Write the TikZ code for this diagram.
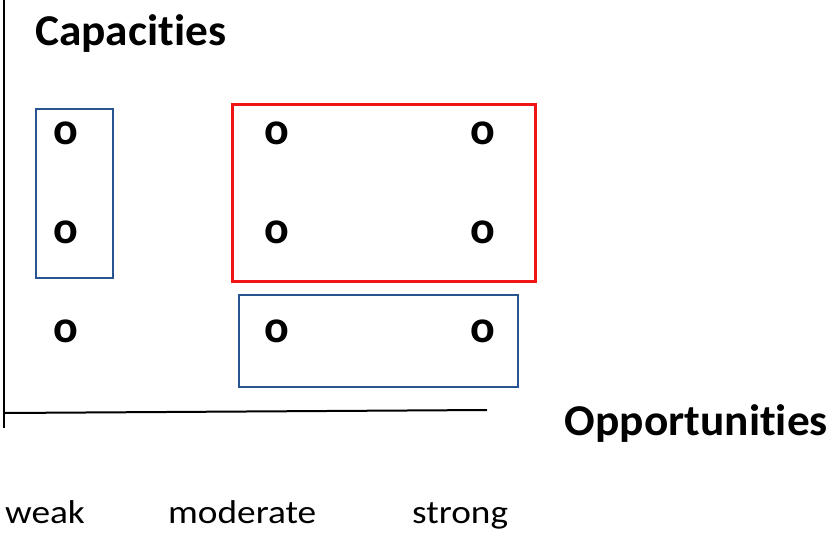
\documentclass[tikz,border=0pt]{standalone}
\usepackage{fontspec}
\setmainfont{Carlito}
\newfontfamily\titlefont[FakeStretch=1.03,Ligatures=CommonOff]{Carlito}
\newfontfamily\levelfont[FakeStretch=1.13]{Carlito}
\definecolor{boxblue}{RGB}{40,84,145}
\definecolor{boxred}{RGB}{240,20,20}
\begin{document}
\begin{tikzpicture}[x=1pt,y=-1pt,
  omark/.style={inner sep=0pt, font=\fontsize{46}{46}\selectfont\bfseries},
  title/.style={inner sep=0pt, font=\titlefont\fontsize{44}{44}\selectfont\bfseries},
  level/.style={inner sep=0pt, font=\levelfont\fontsize{33}{33}\selectfont},
  bluebox/.style={draw=boxblue, line width=2.4pt},
  redbox/.style={draw=boxred, line width=3pt},
  axis/.style={draw=black, line width=2pt}]
\useasboundingbox (0,0) rectangle (831,533);
% axes
\coordinate (ytop) at (4,0);
\coordinate (ybot) at (4,428);
\coordinate (xl) at (5,413);
\coordinate (xr) at (487,410);
\draw[line width=1.4pt] (ytop) -- (ybot);
\draw[axis] (xl) -- (xr);
% titles
\node[title, anchor=base west] (cap) at (35,45) {Capacities};
\node[title, anchor=base east] (opp) at (828,435) {Opportunities};
% levels
\node[level, anchor=base west] (weak) at (5,523) {weak};
\node[level, anchor=base west] (mod) at (168,523) {moderate};
\node[level, anchor=base west] (str) at (412,523) {strong};
% boxes
\draw[bluebox] (36,109) rectangle (113,278);
\draw[redbox] (232,104) rectangle (535,281);
\draw[bluebox] (239,295) rectangle (518,387);
% marks
\node[omark] (a1) at (66,133) {o};
\node[omark] (a2) at (66,232) {o};
\node[omark] (a3) at (66,331) {o};
\node[omark] (b1) at (277,133) {o};
\node[omark] (b2) at (277,232) {o};
\node[omark] (b3) at (277,331) {o};
\node[omark] (c1) at (483,133) {o};
\node[omark] (c2) at (483,232) {o};
\node[omark] (c3) at (483,331) {o};
\end{tikzpicture}
\end{document}
